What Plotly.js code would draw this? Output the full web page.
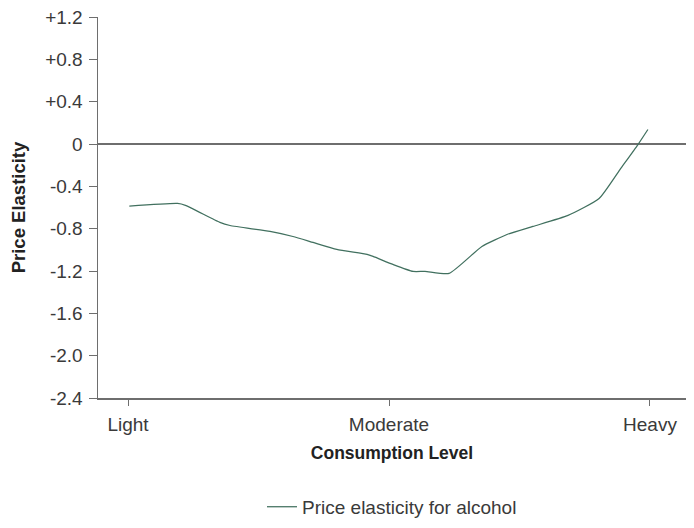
<!DOCTYPE html>
<html>
<head>
<meta charset="utf-8">
<script src="https://cdn.plot.ly/plotly-3.0.1.min.js"></script>
<style>
  html, body { margin: 0; padding: 0; background: #fff; }
  #chart { width: 694px; height: 528px; }
</style>
</head>
<body>
<div id="chart"></div>
<script>
// consumption position: 0 = Light, 1 = Moderate, 2 = Heavy
const levelX = [0.005, 0.19, 0.22, 0.352, 0.391, 0.544, 0.632, 0.709, 0.80, 0.916, 0.939,
  1.015, 1.092, 1.138, 1.23, 1.356, 1.452, 1.552, 1.686, 1.805, 1.885, 1.954, 1.992];
const elasticity = [-0.587, -0.562, -0.58, -0.741, -0.77, -0.826, -0.874, -0.93, -0.996, -1.043, -1.062,
  -1.138, -1.204, -1.204, -1.223, -0.968, -0.855, -0.779, -0.675, -0.515, -0.241, -0.005, 0.137];
const levelTicks = [0, 1, 2];
const levelLabels = ["Light", "Moderate", "Heavy"];
const yTicks = [1.2, 0.8, 0.4, 0, -0.4, -0.8, -1.2, -1.6, -2.0, -2.4];
const yLabels = ["+1.2", "+0.8", "+0.4", "0", "-0.4", "-0.8", "-1.2", "-1.6", "-2.0", "-2.4"];
const seriesName = "Price elasticity for alcohol";

const axisColor = "#6e6e6e";
const font = "Liberation Sans, Arial, sans-serif";

const trace = {
  x: levelX, y: elasticity, type: "scatter", mode: "lines", name: seriesName,
  line: { color: "#41705f", width: 1.25, shape: "spline", smoothing: 0.5 },
  hoverinfo: "skip"
};

const layout = {
  width: 694, height: 528,
  paper_bgcolor: "#fff", plot_bgcolor: "#fff",
  font: { family: font, color: "#3a3a3a", size: 19 },
  margin: { l: 98, r: 8, t: 17, b: 130 },
  showlegend: true,
  legend: {
    orientation: "h", x: 0.5, xanchor: "center", xref: "paper",
    yref: "container", y: 0.04, yanchor: "middle",
    font: { size: 19, color: "#3a3a3a" }, itemwidth: 30
  },
  xaxis: {
    range: [-0.115, 2.138], tickvals: levelTicks, ticktext: levelLabels, automargin: false,
    showgrid: false, zeroline: false, showline: true, linecolor: axisColor, linewidth: 1.5,
    ticks: "outside", ticklen: 6, tickcolor: axisColor, tickwidth: 1, ticklabelstandoff: 3,
    title: { text: "Consumption Level", font: { size: 17.5, color: "#222", weight: "bold" }, standoff: 12 }
  },
  yaxis: {
    range: [-2.4, 1.2], tickvals: yTicks, ticktext: yLabels, automargin: false,
    showgrid: false, zeroline: true, zerolinecolor: axisColor, zerolinewidth: 1.5,
    showline: true, linecolor: axisColor, linewidth: 1.5,
    ticks: "outside", ticklen: 8, tickcolor: axisColor, tickwidth: 1, ticklabelstandoff: 2,
    title: { text: "Price Elasticity", font: { size: 18.5, color: "#222", weight: "bold" }, standoff: 14 }
  }
};

Plotly.newPlot("chart", [trace], layout, { displayModeBar: false, staticPlot: true });
</script>
</body>
</html>
